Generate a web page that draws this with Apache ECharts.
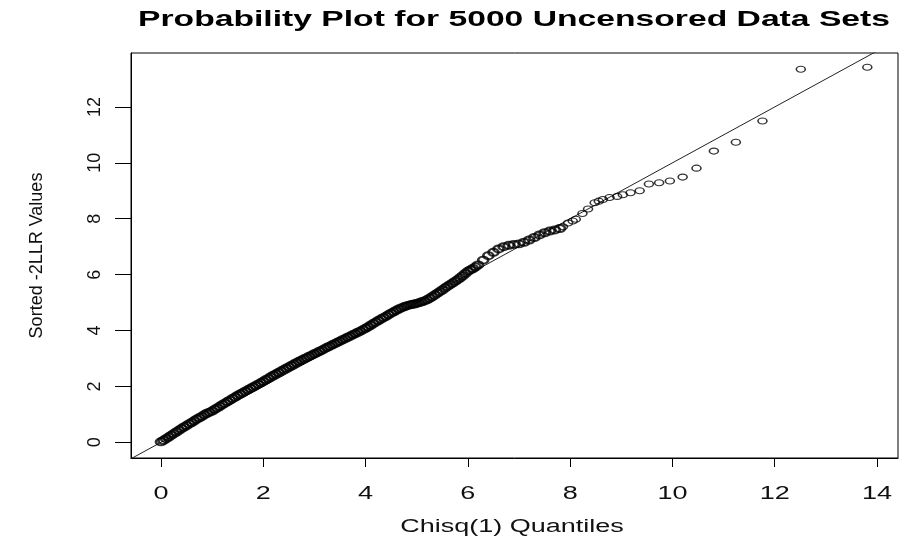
<!DOCTYPE html>
<html>
<head>
<meta charset="utf-8">
<script src="https://cdn.jsdelivr.net/npm/echarts@6/dist/echarts.min.js"></script>
<style>html,body{margin:0;padding:0;background:#fff;}#c{width:901px;height:541px;}</style>
</head>
<body>
<div id="c"></div>
<script>
const titleText = 'Probability Plot for 5000 Uncensored Data Sets';
const xTitle = 'Chisq(1) Quantiles';
const yTitle = 'Sorted -2LLR Values';
const xTicks = [0, 2, 4, 6, 8, 10, 12, 14];
const yTicks = [0, 2, 4, 6, 8, 10, 12];

// dense part of the plot: chi-square(1) quantiles (x)
const bandQuantiles = [
  0.00,0.05,0.10,0.15,0.20,0.25,0.30,0.35,0.40,0.45,0.50,
  0.55,0.60,0.65,0.70,0.75,0.80,0.85,0.90,0.95,1.00,
  1.05,1.10,1.15,1.20,1.25,1.30,1.35,1.40,1.45,1.50,
  1.55,1.60,1.65,1.70,1.75,1.80,1.85,1.90,1.95,2.00,
  2.05,2.10,2.15,2.20,2.25,2.30,2.35,2.40,2.45,2.50,
  2.55,2.60,2.65,2.70,2.75,2.80,2.85,2.90,2.95,3.00,
  3.05,3.10,3.15,3.20,3.25,3.30,3.35,3.40,3.45,3.50,
  3.55,3.60,3.65,3.70,3.75,3.80,3.85,3.90,3.95,4.00,
  4.05,4.10,4.15,4.20,4.25,4.30,4.35,4.40,4.45,4.50,
  4.55,4.60,4.65,4.70,4.75,4.80,4.85,4.90,4.95,5.00,
  5.05,5.10,5.15,5.20,5.25,5.30,5.35,5.40,5.45,5.50,
  5.55,5.60,5.65,5.70,5.75,5.80,5.85,5.90,5.95,6.00,
  6.05,6.10,6.15,6.20,
  6.30,6.40,6.50,6.60,6.70,6.80,6.90,7.00,7.10,7.20,7.30,7.40,7.50,7.60,7.70,7.80
];
// dense part: sorted -2LLR values (y)
const bandLLR = [
  0.02,0.07,0.13,0.19,0.25,0.31,0.37,0.43,0.49,0.55,0.60,
  0.66,0.71,0.77,0.83,0.88,0.93,0.99,1.04,1.08,1.12,
  1.18,1.23,1.29,1.35,1.40,1.46,1.51,1.57,1.62,1.68,
  1.73,1.78,1.83,1.88,1.93,1.98,2.03,2.08,2.13,2.18,
  2.24,2.29,2.35,2.40,2.45,2.50,2.55,2.60,2.65,2.70,
  2.75,2.80,2.85,2.90,2.94,2.99,3.03,3.08,3.12,3.17,
  3.21,3.26,3.30,3.35,3.40,3.44,3.49,3.53,3.58,3.62,
  3.67,3.71,3.76,3.80,3.85,3.89,3.94,3.98,4.03,4.08,
  4.13,4.19,4.25,4.30,4.36,4.41,4.46,4.51,4.57,4.62,
  4.67,4.72,4.77,4.81,4.85,4.88,4.91,4.93,4.95,4.97,
  5.00,5.03,5.06,5.10,5.15,5.21,5.27,5.33,5.39,5.45,
  5.52,5.58,5.64,5.70,5.76,5.82,5.89,5.96,6.04,6.12,
  6.17,6.22,6.28,6.35,
  6.52,6.68,6.80,6.92,7.00,7.05,7.08,7.10,7.16,7.24,7.33,7.42,7.50,7.56,7.60,7.65
];
// upper tail: individually visible points
const tailQuantiles = [
  7.86,7.96,8.05,8.11,8.24,8.35,8.48,8.56,8.64,8.77,8.92,9.03,9.18,9.36,
  9.54,9.74,9.95,10.20,10.47,10.81,11.24,11.76,12.51,13.81
];
const tailLLR = [
  7.71,7.85,7.92,7.98,8.19,8.35,8.57,8.63,8.69,8.76,8.80,8.86,8.93,9.00,
  9.24,9.29,9.35,9.49,9.81,10.42,10.74,11.50,13.35,13.42
];
// reference line y = x
const refLine = [[-1, -1], [15, 15]];

const xMin = -0.586, xMax = 14.41, yMin = -0.56, yMax = 13.93;

const bandPoints = bandQuantiles.map((q, i) => [q, bandLLR[i]]);
const tailPoints = tailQuantiles.map((q, i) => [q, tailLLR[i]]);
const font = 'Liberation Sans, Arial, sans-serif';
const stretch = 1.5;

const chart = echarts.init(document.getElementById('c'), null, {renderer: 'canvas'});
chart.setOption({
  backgroundColor: '#fff',
  animation: false,
  grid: {left: 131, right: 3, top: 53, bottom: 83, show: true, borderColor: '#000', borderWidth: 1, backgroundColor: 'transparent', containLabel: false},
  graphic: [
    {
      type: 'text', x: 514, y: 9, scaleX: 1.53, silent: true,
      style: {text: titleText, font: 'bold 22px ' + font, fill: '#000', textAlign: 'center', textVerticalAlign: 'top'}
    },
    {
      type: 'text', x: 512, y: 527, scaleX: stretch, silent: true,
      style: {text: xTitle, font: '18px ' + font, fill: '#111', textAlign: 'center', textVerticalAlign: 'middle'}
    }
  ],
  xAxis: {
    type: 'value', min: xMin, max: xMax,
    splitLine: {show: false},
    axisLine: {show: true, onZero: false, lineStyle: {color: '#000', width: 1}},
    axisTick: {show: true, inside: false, length: 9, lineStyle: {color: '#000'}, customValues: xTicks},
    axisLabel: {show: false, customValues: xTicks}
  },
  yAxis: {
    type: 'value', min: yMin, max: yMax,
    splitLine: {show: false},
    axisLine: {show: true, onZero: false, lineStyle: {color: '#000', width: 1}},
    axisTick: {show: true, inside: false, length: 16, lineStyle: {color: '#000'}, customValues: yTicks},
    axisLabel: {show: true, margin: 27, rotate: 90, fontFamily: font, fontSize: 18, color: '#111', customValues: yTicks},
    name: yTitle, nameLocation: 'middle', nameGap: 85, nameRotate: 90,
    nameTextStyle: {fontFamily: font, fontSize: 18, color: '#111'}
  },
  series: [
    {
      type: 'line', data: refLine, symbol: 'none', clip: true, silent: true,
      lineStyle: {color: '#222', width: 1}, z: 1
    },
    {
      type: 'scatter', data: bandPoints, symbol: 'circle', symbolSize: [10, 7], clip: true, silent: true,
      itemStyle: {color: 'rgba(0,0,0,0)', borderColor: '#000', borderWidth: 2.3}, z: 2
    },
    {
      type: 'scatter', data: tailPoints, symbol: 'circle', symbolSize: [9, 6], clip: true, silent: true,
      itemStyle: {color: 'rgba(0,0,0,0)', borderColor: '#000', borderWidth: 1.3}, z: 2
    },
    {
      // x tick labels, placed through the x axis scale and stretched like the reference
      type: 'custom', data: xTicks.map(v => [v, yMin]), clip: false, silent: true, z: 3,
      renderItem: function (params, api) {
        const pt = api.coord([api.value(0), api.value(1)]);
        return {
          type: 'text', x: pt[0], y: pt[1] + 36, scaleX: stretch,
          style: {text: String(api.value(0)), font: '18px ' + font, fill: '#111', textAlign: 'center', textVerticalAlign: 'middle'}
        };
      }
    }
  ]
});
</script>
</body>
</html>
